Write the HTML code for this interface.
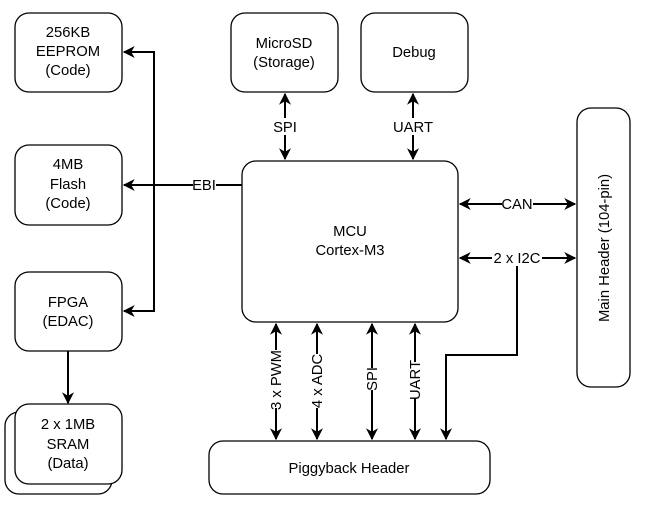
<!DOCTYPE html>
<html><head><style>body{margin:0;background:#fff}</style></head><body>
<svg width="645" height="505" xmlns="http://www.w3.org/2000/svg" font-family="Liberation Sans, Arial, sans-serif" font-size="14.8" fill="#000">
<defs>
<marker id="a" viewBox="0 0 10 10" refX="9" refY="5" markerWidth="6" markerHeight="6" orient="auto-start-reverse"><path d="M0,0 L10,5 L0,10 L3,5 z" fill="#000"/></marker>
</defs>
<g fill="#fff" stroke="#000" stroke-width="1.3">
<rect x="15" y="13" width="107" height="79" rx="14"/>
<rect x="15" y="145" width="107" height="80" rx="14"/>
<rect x="15" y="272" width="107" height="79" rx="14"/>
<rect x="5" y="412" width="107" height="82" rx="14"/>
<rect x="15" y="404" width="107" height="80" rx="14"/>
<rect x="231" y="13" width="107" height="79" rx="14"/>
<rect x="361" y="13" width="107" height="79" rx="14"/>
<rect x="242" y="161" width="216" height="161" rx="14"/>
<rect x="577" y="108" width="53" height="279" rx="14"/>
<rect x="209" y="441" width="281" height="53" rx="14"/>
</g>
<g stroke="#000" stroke-width="2" fill="none">
<path d="M124,52 H154 V311 H124" marker-start="url(#a)" marker-end="url(#a)"/>
<path d="M242,185 H124" marker-end="url(#a)"/>
<path d="M68,351 V403" marker-end="url(#a)"/>
<path d="M285,94 V159" marker-start="url(#a)" marker-end="url(#a)"/>
<path d="M413,94 V159" marker-start="url(#a)" marker-end="url(#a)"/>
<path d="M460,204 H575" marker-start="url(#a)" marker-end="url(#a)"/>
<path d="M460,258 H575" marker-start="url(#a)" marker-end="url(#a)"/>
<path d="M517,266 V355 H446 V439" marker-end="url(#a)"/>
<path d="M276,324 V439" marker-start="url(#a)" marker-end="url(#a)"/>
<path d="M317,324 V439" marker-start="url(#a)" marker-end="url(#a)"/>
<path d="M372,324 V439" marker-start="url(#a)" marker-end="url(#a)"/>
<path d="M415,324 V439" marker-start="url(#a)" marker-end="url(#a)"/>
</g>
<g fill="#fff">
<rect x="193" y="176" width="23" height="17"/>
<rect x="272" y="118" width="26" height="17"/>
<rect x="394" y="118" width="38" height="17"/>
<rect x="502" y="195" width="31" height="17"/>
<rect x="492" y="249" width="50" height="17"/>
<rect x="268" y="350" width="16" height="58"/>
<rect x="309" y="354" width="16" height="54"/>
<rect x="364" y="368" width="16" height="22"/>
<rect x="407" y="362" width="16" height="36"/>
</g>
<g text-anchor="middle">
<text x="68" y="37">256KB</text><text x="68" y="56">EEPROM</text><text x="68" y="75">(Code)</text>
<text x="68" y="169">4MB</text><text x="68" y="189">Flash</text><text x="68" y="208">(Code)</text>
<text x="68" y="307">FPGA</text><text x="68" y="326">(EDAC)</text>
<text x="68" y="429">2 x 1MB</text><text x="68" y="449">SRAM</text><text x="68" y="468">(Data)</text>
<text x="284" y="48">MicroSD</text><text x="284" y="67">(Storage)</text>
<text x="414" y="57">Debug</text>
<text x="350" y="236">MCU</text><text x="350" y="255">Cortex-M3</text>
<text x="349" y="473">Piggyback Header</text>
<text x="204" y="190">EBI</text>
<text x="285" y="132">SPI</text>
<text x="413" y="132">UART</text>
<text x="517" y="209">CAN</text>
<text x="517" y="263">2 x I2C</text>
<text transform="translate(609,248) rotate(-90)">Main Header (104-pin)</text>
<text transform="translate(281,380) rotate(-90)">3 x PWM</text>
<text transform="translate(322,381) rotate(-90)">4 x ADC</text>
<text transform="translate(377,379) rotate(-90)">SPI</text>
<text transform="translate(420,380) rotate(-90)">UART</text>
</g>
</svg>
</body></html>
